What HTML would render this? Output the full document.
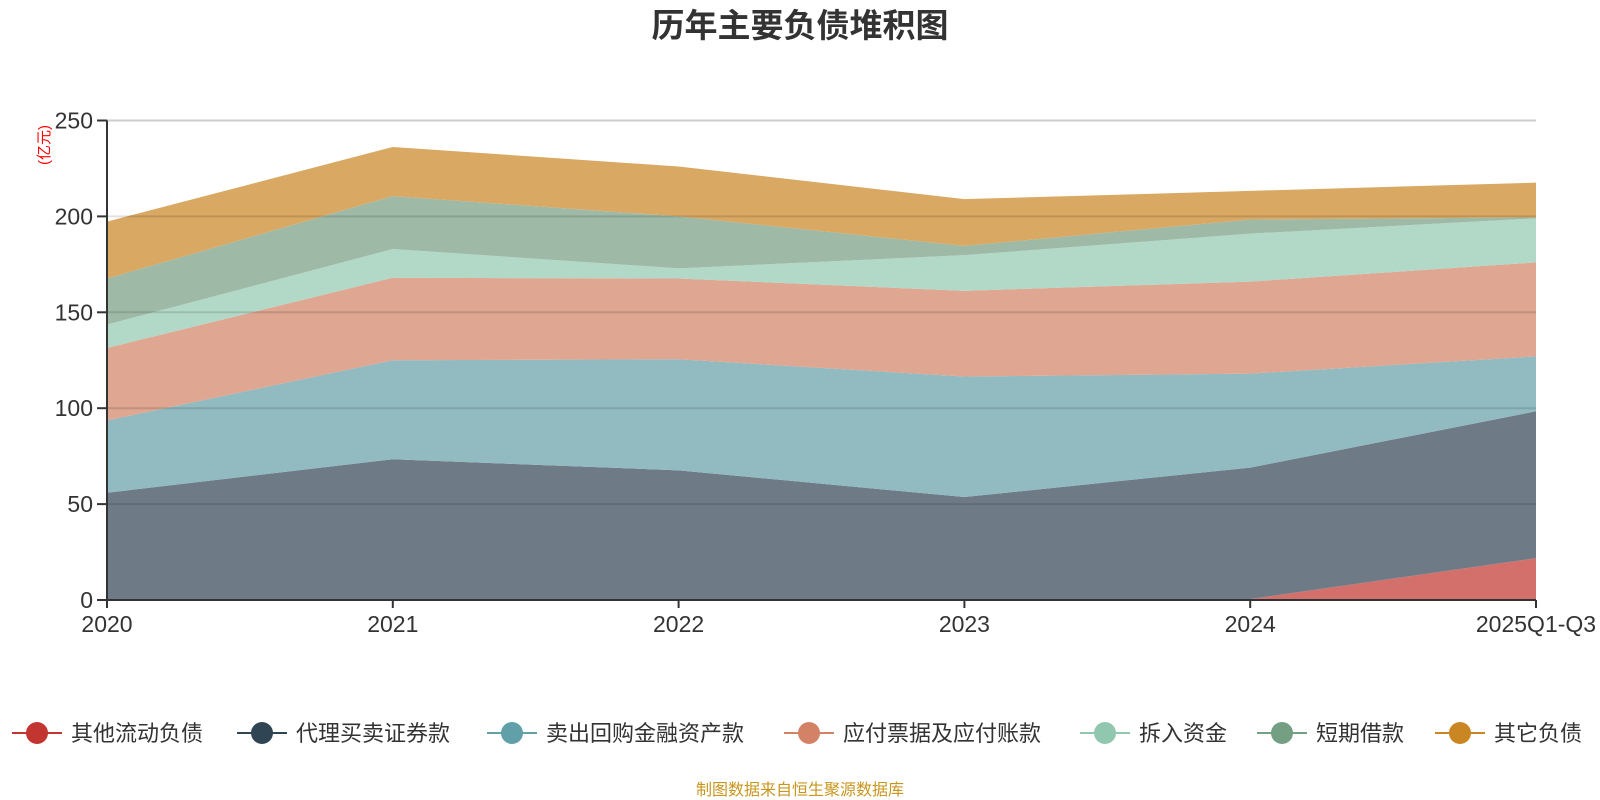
<!DOCTYPE html>
<html><head><meta charset="utf-8">
<style>
body{margin:0;background:#fff;width:1600px;height:800px;overflow:hidden;font-family:"Liberation Sans","Noto Sans CJK SC",sans-serif;}
svg{display:block}
</style></head>
<body>
<svg id="chart" width="1600" height="800">
<text x="800" y="37" text-anchor="middle" font-size="33" font-weight="bold" fill="#333">历年主要负债堆积图</text>
<text transform="translate(49,145) rotate(-90)" text-anchor="middle" font-size="15" fill="#f00">(亿元)</text>
<g id="areas"></g><g id="grid"></g><g id="axes"></g><g id="legend"></g>
<text x="800" y="795" text-anchor="middle" font-size="16" fill="#c8961e">制图数据来自恒生聚源数据库</text>
</svg>
<script>
const categories=["2020","2021","2022","2023","2024","2025Q1-Q3"];
const seriesNames=["其他流动负债","代理买卖证券款","卖出回购金融资产款","应付票据及应付账款","拆入资金","短期借款","其它负债"];
const s0=[0.5,0.5,0.5,0.5,0.5,21.8];
const s1=[55.4,72.9,67.1,53.2,68.5,76.6];
const s2=[37.7,51.6,57.9,62.8,49,28.6];
const s3=[37.8,43,42.1,44.7,48,49];
const s4=[12.2,15,5.3,18.6,25,23];
const s5=[24,27.6,27.1,4.8,7.4,0.5];
const s6=[29.7,25.6,26,24.4,14.9,18.1];
const yTicks=[0,50,100,150,200,250];
const series=[s0,s1,s2,s3,s4,s5,s6];
const fills=["#d4706c","#6e7b87","#91bac1","#dfa691","#b2d8c7","#9eb9a6","#d9a862"];
const icons=["#c23531","#2f4554","#61a0a8","#d48265","#91c7ae","#749f83","#ca8622"];
const L=107,R=1536,T=120.5,B=600,NS="http://www.w3.org/2000/svg";
const x=i=>L+i*(R-L)/(categories.length-1);
const y=v=>B-v*(B-T)/250;
function mk(tag,attrs,parent){const e=document.createElementNS(NS,tag);for(const k in attrs)e.setAttribute(k,attrs[k]);parent.appendChild(e);return e;}
const areas=document.getElementById('areas'),grid=document.getElementById('grid'),axes=document.getElementById('axes'),legend=document.getElementById('legend');
let base=categories.map(()=>0);
series.forEach((s,k)=>{
  const top=base.map((b,i)=>b+s[i]);
  let d="M"+categories.map((c,i)=>x(i)+","+y(top[i])).join(" L");
  for(let i=categories.length-1;i>=0;i--)d+=" L"+x(i)+","+y(base[i]);
  const p=mk('path',{d:d+"Z",fill:fills[k]},areas);
  
  
  base=top;
});
yTicks.forEach(t=>{
  const g=mk('line',{x1:L,x2:R,y1:y(t),y2:y(t),stroke:t==250?"#ccc":"rgba(0,0,0,0.12)","stroke-width":2},grid);
  
  
  mk('line',{x1:L-10,x2:L,y1:y(t),y2:y(t),stroke:"#333","stroke-width":2},axes);
  const tx=mk('text',{x:L-14,y:y(t)+8,"text-anchor":"end","font-size":23,fill:"#333"},axes);
  tx.textContent=t;
  
  
});
mk('line',{x1:L,x2:L,y1:T,y2:B,stroke:"#333","stroke-width":2},axes);
mk('line',{x1:L,x2:R,y1:B,y2:B,stroke:"#333","stroke-width":2},axes);
categories.forEach((c,i)=>{
  mk('line',{x1:x(i),x2:x(i),y1:B,y2:B+8,stroke:"#333","stroke-width":2},axes);
  const tx=mk('text',{x:x(i),y:B+32,"text-anchor":"middle","font-size":23,fill:"#333"},axes);
  tx.textContent=c;
  
  
});
const lx=[12,237,487,784,1080,1257,1435];
seriesNames.forEach((n,k)=>{
  const g=mk('g',{},legend);
  
  
  mk('line',{x1:lx[k],x2:lx[k]+50,y1:733,y2:733,stroke:icons[k],"stroke-width":2},g);
  mk('circle',{cx:lx[k]+25,cy:733,r:11,fill:icons[k]},g);
  const t=mk('text',{x:lx[k]+59,y:741,"font-size":22,fill:"#333"},g);
  t.textContent=n;
});
</script>
</body></html>
